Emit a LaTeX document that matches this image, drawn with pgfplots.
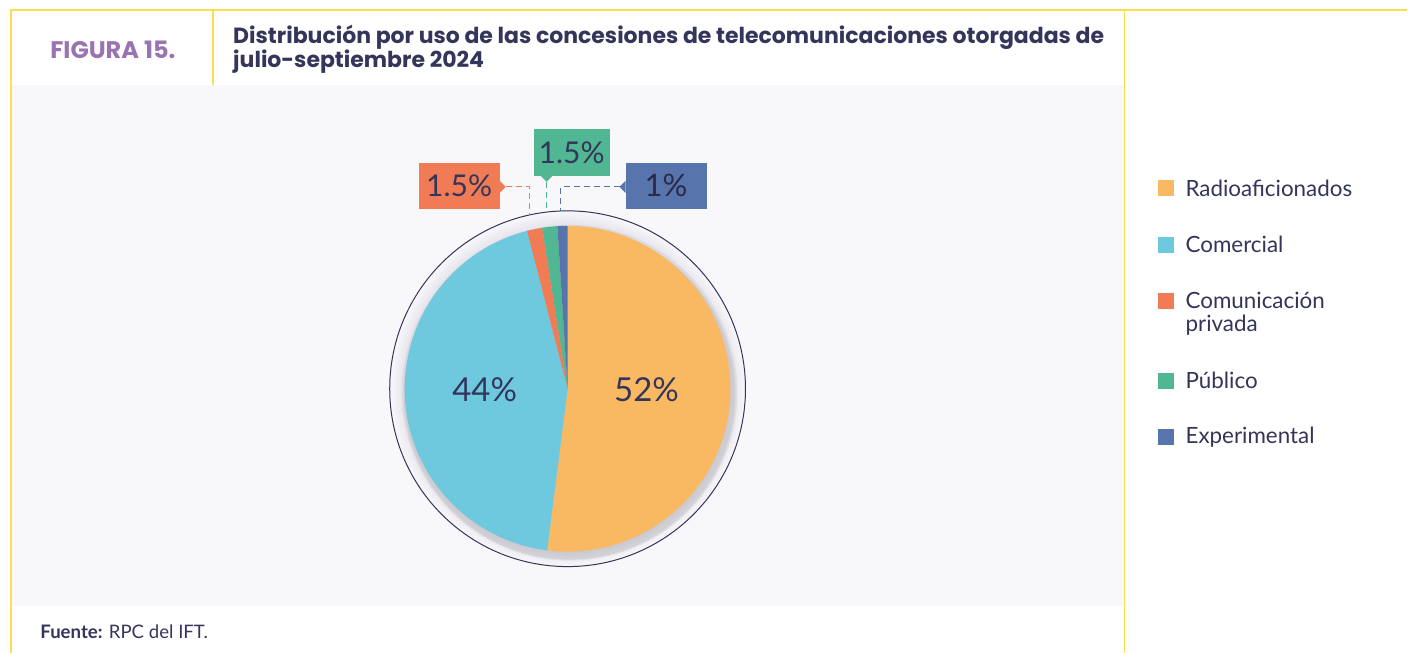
\documentclass[border=0pt]{standalone}
\usepackage{pgfplots}
\pgfplotsset{compat=1.18}
\usepackage{fontspec}
\setmainfont{Lato}
\newfontfamily\titlefont{Poppins}
\definecolor{yellowLine}{RGB}{253,222,80}
\definecolor{panelBg}{RGB}{248,247,250}
\definecolor{navyText}{RGB}{52,53,90}
\definecolor{figPurple}{RGB}{154,115,177}
\definecolor{ringGray}{RGB}{226,224,232}
\definecolor{cOrange}{RGB}{249,185,99}
\definecolor{cCyan}{RGB}{110,200,222}
\definecolor{cRed}{RGB}{240,123,85}
\definecolor{cGreen}{RGB}{81,183,146}
\definecolor{cBlue}{RGB}{87,116,173}

% shares in percent
\def\vRadio{52}
\def\vComercial{44}
\def\vPrivada{1.5}
\def\vPublico{1.5}
\def\vExperimental{1}

\pgfmathsetmacro\aA{90}
\pgfmathsetmacro\aB{\aA-3.6*\vRadio}
\pgfmathsetmacro\aC{\aB-3.6*\vComercial}
\pgfmathsetmacro\aD{\aC-3.6*\vPrivada}
\pgfmathsetmacro\aE{\aD-3.6*\vPublico}
\pgfmathsetmacro\aF{\aE-3.6*\vExperimental}

\pgfdeclareradialshading{ringshade}{\pgfpoint{0bp}{0bp}}{%
  color(0bp)=(ringGray); color(22.6bp)=(ringGray); color(25bp)=(panelBg); color(50bp)=(panelBg)}

\begin{document}
\begin{tikzpicture}
\begin{scope}[x=0.5pt,y=0.5pt]
  \fill[white] (0,0) rectangle (1408,653);
  \fill[panelBg] (12,47) rectangle (1125,568);
  \draw[yellowLine, line width=1pt] (10,643) -- (1408,643);
  \draw[yellowLine, line width=0.7pt] (11,643) -- (11,0);
  \draw[yellowLine, line width=0.7pt] (213,643) -- (213,568);
  \draw[yellowLine, line width=0.7pt] (1125,643) -- (1125,0);
  % header
  \node[font=\titlefont\bfseries\fontsize{12}{14}\selectfont, text=figPurple] at (113,603) {FIGURA 15.};
  \node[font=\titlefont\bfseries\fontsize{11}{13}\selectfont, text=navyText, anchor=base west, inner sep=0pt] at (233,609)
    {Distribución por uso de las concesiones de telecomunicaciones otorgadas de};
  \node[font=\titlefont\bfseries\fontsize{11}{13}\selectfont, text=navyText, anchor=base west, inner sep=0pt] at (233,585)
    {julio-septiembre 2024};
  % ring and shadow
  \shade[shading=ringshade] (568,264) circle (178);
  \fill[black, opacity=0.06] (570,259) circle (166);
  \fill[black, opacity=0.05] (570,260) circle (168);
  \draw[navyText, line width=0.5pt] (568,264) circle (178);
\end{scope}

\begin{axis}[
    at={(284pt,132pt)}, anchor=center,
    hide axis, clip=false,
    x=81.5pt, y=81.5pt,
    xmin=-1.2, xmax=1.2, ymin=-1.2, ymax=1.2,
  ]
  \fill[cOrange] (axis cs:0,0) -- ++(\aA:81.5pt) arc[start angle=\aA, end angle=\aB, radius=81.5pt] -- cycle;
  \fill[cCyan]   (axis cs:0,0) -- ++(\aB:81.5pt) arc[start angle=\aB, end angle=\aC, radius=81.5pt] -- cycle;
  \fill[cRed]    (axis cs:0,0) -- ++(\aC:81.5pt) arc[start angle=\aC, end angle=\aD, radius=81.5pt] -- cycle;
  \fill[cGreen]  (axis cs:0,0) -- ++(\aD:81.5pt) arc[start angle=\aD, end angle=\aE, radius=81.5pt] -- cycle;
  \fill[cBlue]   (axis cs:0,0) -- ++(\aE:81.5pt) arc[start angle=\aE, end angle=\aF, radius=81.5pt] -- cycle;
\end{axis}

\begin{scope}[x=0.5pt,y=0.5pt]
  \node[font=\fontsize{16.5}{19}\selectfont, text=navyText] at (647,263) {52\%};
  \node[font=\fontsize{16.5}{19}\selectfont, text=navyText] at (485,263) {44\%};
  % callouts
  \draw[cRed, dashed, dash pattern=on 3pt off 2pt, line width=0.5pt] (506,466) -- (530,466) -- (530,438);
  \draw[cGreen, dashed, dash pattern=on 3pt off 2pt, line width=0.5pt] (547,471) -- (547,441);
  \draw[cBlue, dashed, dash pattern=on 3pt off 2pt, line width=0.5pt] (620,466) -- (561,466) -- (561,442);
  \fill[cRed] (419,444) rectangle (500,490);
  \fill[cRed] (500,472) -- (506,466) -- (500,460) -- cycle;
  \fill[cGreen] (534,477) rectangle (610,524);
  \fill[cGreen] (541,477) -- (547,471) -- (553,477) -- cycle;
  \fill[cBlue] (626,444) rectangle (707,490);
  \fill[cBlue] (626,472) -- (620,466) -- (626,460) -- cycle;
  \node[font=\fontsize{15}{18}\selectfont, text=navyText] at (459.5,467) {1.5\%};
  \node[font=\fontsize{15}{18}\selectfont, text=navyText] at (572,500.5) {1.5\%};
  \node[font=\fontsize{15.5}{18}\selectfont, text=navyText!80!black] at (666.5,467) {1\%};
  % legend
  \fill[cOrange] (1159,457) rectangle (1175,473);
  \fill[cCyan]   (1159,400) rectangle (1175,416);
  \fill[cRed]    (1159,344) rectangle (1175,360);
  \fill[cGreen]  (1159,264) rectangle (1175,280);
  \fill[cBlue]   (1159,208) rectangle (1175,224);
  \begin{scope}[every node/.style={font=\fontsize{11.2}{13}\selectfont, text=navyText, anchor=west, inner sep=0pt}]
    \node at (1186,465) {Radioaficionados};
    \node at (1186,408) {Comercial};
    \node at (1186,352) {Comunicación};
    \node at (1186,328) {privada};
    \node at (1186,272) {Público};
    \node at (1186,216) {Experimental};
  \end{scope}
  \node[font=\fontsize{9.3}{11}\selectfont, text=navyText, anchor=west, inner sep=0pt] at (40,21)
    {\textbf{Fuente:} RPC del IFT.};
\end{scope}
\end{tikzpicture}
\end{document}
